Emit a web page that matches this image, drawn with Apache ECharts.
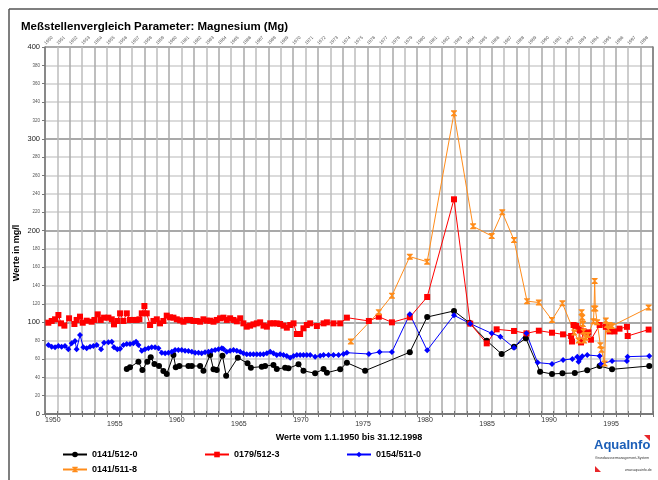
<!DOCTYPE html>
<html>
<head>
<meta charset="utf-8">
<script src="https://cdn.jsdelivr.net/npm/echarts@6/dist/echarts.min.js"></script>
<style>
  html, body { margin: 0; padding: 0; background: #fff; }
  #chart { width: 658px; height: 480px; }
</style>
</head>
<body>
<div id="chart"></div>
<script>
// Messwerte [Jahr, mg/l]
var black = [
  [1956.59, 49.0], [1956.85, 50.9], [1957.53, 57.0], [1957.85, 48.0], [1958.25, 57.0],
  [1958.52, 61.8], [1958.82, 54.5], [1959.19, 52.3], [1959.54, 46.9], [1959.81, 43.6],
  [1960.35, 64.3], [1960.54, 50.9], [1960.83, 52.3], [1961.56, 52.3], [1961.83, 52.3],
  [1962.50, 52.3], [1962.77, 47.2], [1963.31, 64.3], [1963.58, 48.7], [1963.84, 48.0],
  [1964.30, 63.6], [1964.60, 41.8], [1965.54, 61.4], [1966.32, 55.2], [1966.59, 50.5],
  [1967.47, 51.6], [1967.74, 52.3], [1968.41, 53.4], [1968.68, 49.0], [1969.35, 50.5],
  [1969.62, 49.8], [1970.43, 54.1], [1970.83, 47.2], [1971.77, 44.3], [1972.45, 49.0],
  [1972.72, 45.0], [1973.79, 48.7], [1974.33, 55.9], [1975.8, 47.2], [1979.4, 67.3],
  [1980.8, 105.7], [1982.96, 112.3], [1984.2, 99.5], [1985.6, 79.9], [1986.8, 65.4],
  [1987.8, 73.4], [1988.75, 82.5], [1989.9, 46.1], [1990.86, 43.6], [1991.7, 44.3],
  [1992.7, 44.7], [1993.7, 47.6], [1994.7, 52.3], [1995.7, 48.7], [1998.7, 52.3]
];
var red = [
  [1950.27, 99.5], [1950.54, 101.4], [1950.81, 103.2], [1951.08, 107.9], [1951.29, 98.8],
  [1951.56, 96.3], [1951.94, 104.3], [1952.37, 98.1], [1952.55, 102.5], [1952.82, 106.1],
  [1953.04, 99.5], [1953.36, 101.7], [1953.76, 100.6], [1953.98, 102.5], [1954.25, 108.6],
  [1954.49, 102.5], [1954.76, 105.0], [1955.11, 105.0], [1955.38, 103.2], [1955.56, 97.7],
  [1955.83, 101.4], [1956.05, 109.7], [1956.32, 101.4], [1956.59, 109.7], [1956.85, 102.5],
  [1957.12, 102.5], [1957.39, 102.5], [1957.61, 103.2], [1957.80, 109.7], [1958.01, 117.7],
  [1958.20, 109.7], [1958.47, 97.0], [1958.74, 101.4], [1959.01, 103.2], [1959.27, 98.8],
  [1959.54, 101.4], [1959.81, 107.2], [1960.08, 105.4], [1960.35, 105.0], [1960.62, 103.2],
  [1960.89, 102.1], [1961.16, 100.6], [1961.42, 102.5], [1961.69, 102.5], [1961.96, 101.4],
  [1962.23, 101.4], [1962.50, 100.6], [1962.77, 103.2], [1963.04, 101.7], [1963.31, 101.7],
  [1963.58, 100.6], [1963.84, 102.5], [1964.11, 104.3], [1964.38, 105.0], [1964.65, 102.5],
  [1964.92, 104.3], [1965.19, 102.5], [1965.46, 101.0], [1965.73, 104.3], [1965.99, 98.8],
  [1966.26, 95.2], [1966.53, 96.3], [1966.80, 97.7], [1967.07, 98.8], [1967.34, 99.9],
  [1967.61, 96.3], [1967.88, 95.2], [1968.15, 98.8], [1968.41, 98.8], [1968.68, 98.8],
  [1968.95, 98.1], [1969.22, 96.3], [1969.49, 94.1], [1969.76, 97.0], [1970.03, 98.8],
  [1970.30, 87.2], [1970.56, 87.2], [1970.83, 93.4], [1971.10, 97.0], [1971.37, 98.8],
  [1971.91, 95.9], [1972.45, 98.8], [1972.72, 99.9], [1973.25, 98.8], [1973.79, 98.8],
  [1974.33, 105.0], [1976.1, 101.4], [1976.9, 106.0], [1977.96, 99.9], [1979.4, 105.4],
  [1980.8, 127.5], [1982.96, 234.0], [1984.27, 98.5], [1985.6, 77.0], [1986.4, 92.3],
  [1987.8, 90.5], [1988.8, 87.9], [1989.8, 90.8], [1990.86, 88.6], [1991.75, 86.8],
  [1992.4, 85.0], [1992.47, 79.0], [1992.6, 97.0], [1992.8, 96.0], [1993.0, 93.0],
  [1993.1, 91.0], [1993.2, 78.0], [1993.4, 90.0], [1993.8, 89.0], [1994.0, 81.0],
  [1994.7, 97.0], [1995.2, 95.0], [1995.5, 90.0], [1995.9, 90.0], [1996.3, 93.0],
  [1996.9, 95.0], [1996.96, 85.0], [1998.65, 92.0]
];
var blue = [
  [1950.27, 75.2], [1950.54, 73.4], [1950.81, 72.7], [1951.08, 74.1], [1951.34, 73.4],
  [1951.61, 74.1], [1951.88, 70.5], [1952.15, 77.0], [1952.42, 79.6], [1952.55, 70.5],
  [1952.82, 86.1], [1953.09, 72.7], [1953.36, 71.6], [1953.63, 73.4], [1953.90, 74.1],
  [1954.17, 75.2], [1954.52, 70.5], [1954.76, 77.7], [1955.11, 78.1], [1955.38, 78.8],
  [1955.56, 72.7], [1955.83, 70.5], [1956.05, 71.2], [1956.32, 75.2], [1956.59, 76.3],
  [1956.85, 76.3], [1957.12, 77.0], [1957.34, 78.8], [1957.53, 75.2], [1957.80, 69.0],
  [1958.06, 70.5], [1958.33, 71.6], [1958.60, 72.7], [1958.87, 72.7], [1959.14, 71.6],
  [1959.41, 66.8], [1959.68, 66.1], [1959.95, 66.8], [1960.22, 67.9], [1960.48, 69.8],
  [1960.75, 69.8], [1961.02, 69.8], [1961.29, 69.0], [1961.56, 68.7], [1961.83, 67.9],
  [1962.10, 66.8], [1962.37, 66.8], [1962.63, 66.1], [1962.90, 67.2], [1963.17, 67.9],
  [1963.44, 69.0], [1963.71, 69.8], [1963.98, 70.5], [1964.25, 71.6], [1964.38, 70.8],
  [1964.65, 67.9], [1964.92, 69.0], [1965.19, 69.8], [1965.46, 69.0], [1965.73, 67.9],
  [1965.99, 66.1], [1966.26, 65.0], [1966.53, 65.0], [1966.80, 65.0], [1967.07, 65.0],
  [1967.34, 65.0], [1967.61, 65.0], [1967.88, 66.1], [1968.15, 67.9], [1968.41, 66.1],
  [1968.68, 64.3], [1968.95, 65.0], [1969.22, 64.3], [1969.49, 63.2], [1969.76, 61.4],
  [1970.03, 63.2], [1970.30, 64.3], [1970.56, 64.3], [1970.83, 64.3], [1971.10, 64.3],
  [1971.37, 64.3], [1971.77, 62.5], [1972.18, 63.6], [1972.45, 64.3], [1972.85, 64.3],
  [1973.25, 64.3], [1973.66, 64.3], [1974.06, 65.4], [1974.33, 66.8], [1976.1, 65.4],
  [1976.96, 67.6], [1977.96, 67.6], [1979.4, 108.7], [1980.8, 69.4], [1982.96, 107.6],
  [1984.27, 98.5], [1986.0, 87.9], [1986.7, 84.3], [1987.8, 72.3], [1988.8, 87.9],
  [1989.7, 56.0], [1990.86, 54.5], [1991.75, 58.9], [1992.5, 60.0], [1992.9, 62.5],
  [1993.0, 57.0], [1993.1, 60.0], [1993.3, 63.0], [1993.7, 64.3], [1994.7, 63.2],
  [1994.8, 54.5], [1995.7, 57.8], [1996.9, 57.8], [1996.95, 62.5], [1998.7, 63.2]
];
var orange = [
  [1974.65, 79.0], [1976.9, 111.0], [1977.96, 129.0], [1979.4, 171.5], [1980.8, 166.0],
  [1982.96, 327.7], [1984.5, 204.5], [1986.0, 194.0], [1986.85, 219.8], [1987.8, 189.6],
  [1988.85, 123.0], [1989.8, 121.5], [1990.86, 102.5], [1991.7, 120.6], [1992.66, 88.7],
  [1993.0, 80.0], [1993.25, 111.0], [1993.3, 105.0], [1993.35, 98.0], [1993.4, 90.0],
  [1993.45, 80.0], [1993.6, 83.0], [1993.75, 86.0], [1994.2, 101.0], [1994.25, 115.0],
  [1994.3, 145.0], [1994.35, 115.0], [1994.5, 100.0], [1994.76, 75.0], [1994.85, 70.0],
  [1995.1, 55.0], [1995.2, 102.0], [1995.3, 97.0], [1995.4, 92.0], [1995.5, 97.0],
  [1995.7, 96.0], [1998.65, 116.0]
];
var names = ['0141/512-0', '0179/512-3', '0154/511-0', '0141/511-8'];

var FONT = 'Liberation Sans, Arial, sans-serif';
var chart = echarts.init(document.getElementById('chart'));

function mkSeries(name, data, color, symbol) {
  return {
    name: name,
    type: 'line',
    data: data,
    symbol: symbol,
    symbolSize: 6,
    showSymbol: true,
    color: color,
    lineStyle: { color: color, width: 1 },
    itemStyle: { color: color },
    animation: false
  };
}

function legendAt(name, left, top) {
  return {
    data: [name], left: left, top: top, itemWidth: 24, itemHeight: 7,
    textStyle: { fontFamily: FONT, fontSize: 9, fontWeight: 'bold', color: '#000' }
  };
}

var option = {
  backgroundColor: '#fff',
  animation: false,
  textStyle: { fontFamily: FONT },
  grid: { left: 45, right: 5, top: 47, bottom: 66 },
  title: {
    text: 'Meßstellenvergleich Parameter: Magnesium (Mg)',
    left: 16, top: 16,
    textStyle: { fontFamily: FONT, fontSize: 11.5, fontWeight: 'bold', color: '#000' }
  },
  legend: [
    legendAt(names[0], 57, 445),
    legendAt(names[1], 199, 445),
    legendAt(names[2], 341, 445),
    legendAt(names[3], 57, 460)
  ],
  xAxis: [{
    type: 'value', min: 1950, max: 1999, interval: 1, position: 'bottom',
    name: 'Werte vom 1.1.1950 bis 31.12.1998', nameLocation: 'middle', nameGap: 15,
    nameTextStyle: { fontFamily: FONT, fontSize: 9, fontWeight: 'bold', color: '#000' },
    axisLine: { lineStyle: { color: '#777', width: 1.5 } },
    axisTick: { show: true, length: 3, lineStyle: { color: '#777' } },
    axisLabel: {
      align: 'left', margin: 3, fontSize: 7, color: '#333',
      formatter: function (v) {
        if (v % 5 !== 0 || v > 1998) return '';
        return (v % 10 === 0 ? '{a|' : '{b|') + v + '}';
      },
      rich: { a: { fontSize: 7, color: '#333' }, b: { fontSize: 7, color: '#333', padding: [4, 0, 0, 0] } }
    },
    splitLine: { show: true, lineStyle: { color: ['#a8a8a8', '#bcbcbc'], width: 1.5 } }
  }, {
    type: 'value', min: 1950, max: 1999, interval: 1, position: 'top',
    axisLine: { lineStyle: { color: '#777', width: 1.5 } },
    axisTick: { show: true, length: 3, lineStyle: { color: '#777' } },
    axisLabel: {
      rotate: 45, fontSize: 4.5, color: '#555', margin: 3,
      formatter: function (v) { return v > 1998 ? '' : String(v); }
    },
    splitLine: { show: false }
  }],
  yAxis: [{
    type: 'value', min: 0, max: 400, interval: 20,
    axisLine: { show: true, lineStyle: { color: '#777', width: 1.5 } },
    axisTick: { show: true, length: 3, lineStyle: { color: '#777' } },
    axisLabel: {
      margin: 5,
      formatter: function (v) { return v % 100 === 0 ? '{a|' + v + '}' : '{b|' + v + '}'; },
      rich: { a: { fontSize: 7.5, color: '#222' }, b: { fontSize: 4.5, color: '#555' } }
    },
    splitLine: {
      show: true,
      lineStyle: { color: ['#8c8c8c', '#cfcfcf', '#cfcfcf', '#cfcfcf', '#cfcfcf'], width: 1.5 }
    }
  }, {
    type: 'value', min: 0, max: 400, interval: 20, position: 'right',
    axisLine: { show: true, lineStyle: { color: '#777', width: 1.5 } },
    axisTick: { show: false }, axisLabel: { show: false }, splitLine: { show: false }
  }],
  graphic: [
    { type: 'line', shape: { x1: 9, y1: 9, x2: 658, y2: 9 }, style: { stroke: '#555', lineWidth: 1.5 } },
    { type: 'line', shape: { x1: 9, y1: 9, x2: 9, y2: 480 }, style: { stroke: '#555', lineWidth: 1.5 } },
    {
      type: 'text', x: 17, y: 253, rotation: Math.PI / 2,
      style: { text: 'Werte in mg/l', fill: '#000', font: 'bold 9px ' + FONT, align: 'center', verticalAlign: 'middle' }
    },
    { type: 'text', left: 594, top: 439, style: { text: 'AquaInfo', fill: '#1c5fb8', font: 'bold 13px ' + FONT } },
    { type: 'text', left: 595, top: 456, style: { text: 'Grundwassermanagement-System', fill: '#333', font: '3.5px ' + FONT } },
    { type: 'text', left: 625, top: 468, style: { text: 'www.aquainfo.de', fill: '#333', font: '3.5px ' + FONT } },
    { type: 'polygon', shape: { points: [[644, 435], [650, 435], [650, 441]] }, style: { fill: '#e8262a' } },
    { type: 'polygon', shape: { points: [[595, 466], [595, 472], [601, 472]] }, style: { fill: '#e8262a' } }
  ],
  series: [
    mkSeries(names[0], black, '#000000', 'circle'),
    mkSeries(names[1], red, '#ff0000', 'rect'),
    mkSeries(names[2], blue, '#0000ff', 'diamond'),
    mkSeries(names[3], orange, '#ff8c1a', 'path://M0,0 L10,0 L10,1.5 L6,5 L10,8.5 L10,10 L0,10 L0,8.5 L4,5 L0,1.5 Z')
  ]
};

option && chart.setOption(option);
</script>
</body>
</html>
